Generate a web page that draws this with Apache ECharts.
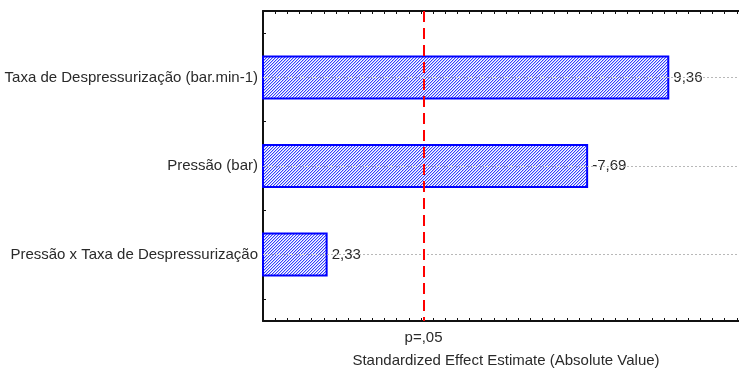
<!DOCTYPE html>
<html>
<head>
<meta charset="utf-8">
<script src="https://cdn.jsdelivr.net/npm/echarts@6/dist/echarts.min.js"></script>
<style>
  html, body { margin: 0; padding: 0; background: #fff; }
  #chart { width: 739px; height: 368px; }
</style>
</head>
<body>
<div id="chart"></div>
<script>
// Pareto chart of standardized effects
const categories = [
  'Taxa de Despressurização (bar.min-1)',
  'Pressão (bar)',
  'Pressão x Taxa de Despressurização'
];
const effects = [9.36, -7.69, 2.33];
const pCritical = 4.303;
const pLabel = 'p=,05';
const xTitle = 'Standardized Effect Estimate (Absolute Value)';

// Each effect sits in its own slot with an empty slot above and below it
const slots = [];
const barValues = [];
slots.push('gap0');
barValues.push(null);
categories.forEach((c, i) => {
  slots.push(c);
  barValues.push(Math.abs(effects[i]));
  slots.push('gap' + (i + 1));
  barValues.push(null);
});

function fmt(v) {
  return v.toFixed(2).replace('.', ',');
}

// Diagonal hatch fill for the bars
function hatch() {
  const n = 3;
  const c = document.createElement('canvas');
  c.width = n; c.height = n;
  const g = c.getContext('2d');
  g.fillStyle = '#ffffff';
  g.fillRect(0, 0, n, n);
  for (let x = 0; x < n; x++) {
    const y = n - 1 - x;
    g.fillStyle = '#3340ff';
    g.fillRect(x, y, 1, 1);
    g.fillStyle = '#bcc1ff';
    g.fillRect(x, (y + 1) % n, 1, 1);
  }
  return c;
}

const font = 'Liberation Sans, Arial, sans-serif';
const fs = 15;
const textColor = '#2a2a2a';
const axisLine = { show: true, lineStyle: { color: '#111', width: 2 } };

const chart = echarts.init(document.getElementById('chart'), null, { renderer: 'canvas' });
chart.setOption({
  animation: false,
  backgroundColor: '#fff',
  grid: { left: 263, top: 11, bottom: 47, right: -10, containLabel: false, outerBoundsMode: 'none' },
  xAxis: [
    {
      type: 'value', position: 'bottom', min: 1, max: 11, interval: 0.25,
      axisLine: axisLine,
      axisTick: { show: true, inside: true, length: 3, lineStyle: { color: '#111', width: 1 } },
      axisLabel: {
        show: true, customValues: [pCritical], formatter: () => pLabel,
        fontFamily: font, fontSize: fs, color: textColor, margin: 9
      },
      splitLine: { show: false },
      name: xTitle, nameLocation: 'middle', nameGap: 32,
      nameTextStyle: { fontFamily: font, fontSize: fs, color: textColor }
    },
    {
      type: 'value', position: 'top', min: 1, max: 11, interval: 0.25,
      axisLine: axisLine,
      axisTick: { show: true, inside: true, length: 3, lineStyle: { color: '#111', width: 1 } },
      axisLabel: { show: false },
      splitLine: { show: false }
    }
  ],
  yAxis: {
    type: 'category', inverse: true, data: slots,
    axisLine: axisLine,
    axisTick: { show: true, inside: true, alignWithLabel: true, length: 3, lineStyle: { color: '#111', width: 1 } },
    axisLabel: {
      fontFamily: font, fontSize: fs, color: textColor, margin: 5, interval: 0,
      formatter: v => (categories.includes(v) ? v : '')
    },
    splitLine: { show: false }
  },
  series: [
    {
      // dotted guide lines through each effect row, drawn beneath the bars
      type: 'line', data: [], z: 1, silent: true,
      markLine: {
        silent: true, symbol: 'none', label: { show: false },
        lineStyle: { color: '#b8b8b8', type: [2, 2], width: 1 },
        data: categories.map(c => ({ yAxis: c }))
      }
    },
    {
      type: 'bar', data: barValues, barWidth: 44, z: 2,
      itemStyle: {
        color: { image: hatch(), repeat: 'repeat' },
        borderColor: '#0000ff', borderWidth: 2
      },
      label: {
        show: true, position: 'right', distance: 3,
        fontFamily: font, fontSize: fs, color: textColor,
        backgroundColor: '#fff', padding: [1, 1],
        formatter: p => fmt(effects[(p.dataIndex - 1) / 2])
      }
    },
    {
      // significance threshold
      type: 'line', data: [], z: 3, silent: true,
      markLine: {
        silent: true, symbol: 'none', label: { show: false },
        lineStyle: { color: '#ff0000', type: [11, 6], width: 2 },
        data: [{ xAxis: pCritical }]
      }
    }
  ]
});
</script>
</body>
</html>
